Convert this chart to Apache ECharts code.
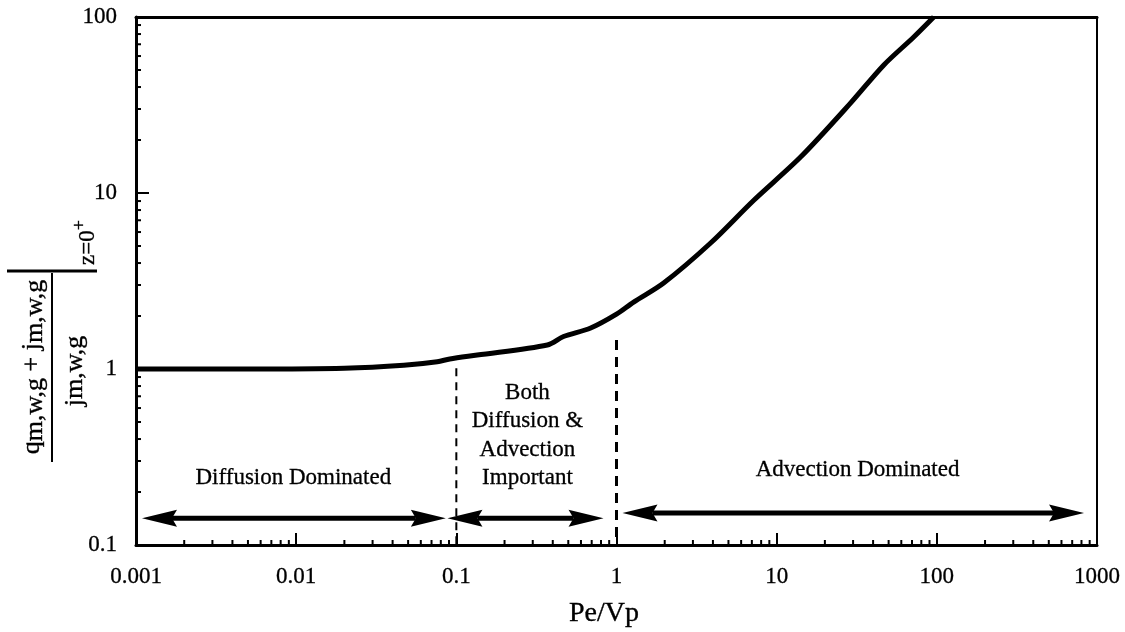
<!DOCTYPE html>
<html><head><meta charset="utf-8">
<script src="https://cdn.jsdelivr.net/npm/echarts@6/dist/echarts.min.js"></script>
<style>html,body{margin:0;padding:0;background:#fff}#chart{width:1125px;height:632px}</style>
</head><body><div id="chart"></div>
<script>
// ---- data ----
const curveX = [0.001, 0.005, 0.02, 0.047, 0.076, 0.091, 0.135, 0.37, 0.467, 0.69, 1.0, 1.28, 1.97, 3.87, 7.2, 14.1, 29, 46.7, 71.8, 95.7];
const curveY = [1.0, 1.0, 1.01, 1.05, 1.1, 1.14, 1.2, 1.37, 1.53, 1.71, 2.05, 2.4, 3.08, 5.2, 9.1, 16, 32.5, 53.4, 77, 100];
const dashLowX = [0.1, 0.1];
const dashLowY = [1.01, 0.1];
const dashHighX = [1, 1];
const dashHighY = [1.46, 0.1];
const arrowFrom = [0.00109, 0.088, 1.09];
const arrowTo = [0.086, 0.83, 830];
const arrowAt = [0.142, 0.142, 0.152];
const regionNames = ['Diffusion Dominated', 'Both\nDiffusion &\nAdvection\nImportant', 'Advection Dominated'];
const regionX = [0.0096, 0.278, 32];
const regionY = [0.24, 0.42, 0.267];
const xTickLabels = ['0.001', '0.01', '0.1', '1', '10', '100', '1000'];
const yTickLabels = ['0.1', '1', '10', '100'];
const xAxisName = 'Pe/Vp';

// minor tick positions (2..9 within each decade)
const xMinor = [];
for (let d = -3; d < 3; d++) for (let k = 2; k < 10; k++) xMinor.push([k * Math.pow(10, d), 0.1]);
const yMinor = [];
for (let d = -1; d < 2; d++) for (let k = 2; k < 10; k++) yMinor.push([0.001, k * Math.pow(10, d)]);

const FONT = '"Liberation Serif", "Times New Roman", serif';
const chart = echarts.init(document.getElementById('chart'));

const mctx = document.createElement('canvas').getContext('2d');
function meas(t, s) { mctx.font = s + 'px "Liberation Serif"'; return mctx.measureText(t).width; }

function txtStyle(text, size) {
  return { text: text, fontSize: size, fontFamily: FONT, fill: '#000', stroke: '#000', lineWidth: 0.35, textAlign: 'left', textVerticalAlign: 'middle' };
}
function partsRow(parts, centerX, baseY) {
  let total = 0; parts.forEach(p => total += meas(p[0], p[1]));
  let cx = centerX - total / 2;
  const out = [];
  parts.forEach(p => {
    out.push({ type: 'text', x: cx, y: baseY + p[2] - 0.33 * p[1], style: txtStyle(p[0], p[1]) });
    cx += meas(p[0], p[1]);
  });
  return out;
}
const B = 26;
const yTitleChildren = [].concat(
  partsRow([['q', B, 0], ['m,w,g', B, 3], [' + ', B, 0], ['j', B, 0], ['m,w,g', B, 3]], 0, -11),
  partsRow([['j', B, 0], ['m,w,g', B, 0]], -4, 32),
  [
    { type: 'line', shape: { x1: -95, y1: 0, x2: 94, y2: 0 }, style: { stroke: '#000', lineWidth: 2 } },
    { type: 'line', shape: { x1: 96, y1: -45, x2: 96, y2: 45 }, style: { stroke: '#000', lineWidth: 3 } },
    { type: 'text', x: 102, y: 44 - 8, style: txtStyle('z=0', 23) },
    { type: 'text', x: 102 + meas('z=0', 23), y: 28, style: txtStyle('+', 18) }
  ]
);

const LBL = { color: '#000', fontFamily: FONT, textBorderColor: '#000', textBorderWidth: 0.3 };

const option = {
  backgroundColor: '#fff',
  animation: false,
  grid: { left: 136, right: 28, top: 17, bottom: 87, show: false },
  xAxis: [{
    type: 'log', logBase: 10, min: 0.001, max: 1000, splitNumber: 6,
    axisLine: { show: true, onZero: false, lineStyle: { color: '#000', width: 3 } },
    axisTick: { show: true, inside: true, length: 12, lineStyle: { color: '#000', width: 2 } },
    splitLine: { show: false }, minorTick: { show: false },
    axisLabel: Object.assign({ show: true, margin: 20, fontSize: 23, showMinLabel: true, showMaxLabel: true,
      formatter: v => xTickLabels[Math.round(Math.log10(v)) + 3] }, LBL)
  }, {
    type: 'log', logBase: 10, min: 0.001, max: 1000, position: 'top',
    axisLine: { show: true, onZero: false, lineStyle: { color: '#000', width: 3 } },
    axisTick: { show: false }, axisLabel: { show: false }, splitLine: { show: false }
  }],
  yAxis: [{
    type: 'log', logBase: 10, min: 0.1, max: 100, splitNumber: 3,
    axisLine: { show: true, onZero: false, lineStyle: { color: '#000', width: 3 } },
    axisTick: { show: true, inside: true, length: 13, lineStyle: { color: '#000', width: 2 } },
    splitLine: { show: false },
    axisLabel: Object.assign({ show: true, margin: 19, fontSize: 23, showMinLabel: true, showMaxLabel: true,
      formatter: v => yTickLabels[Math.round(Math.log10(v)) + 1] }, LBL)
  }, {
    type: 'log', logBase: 10, min: 0.1, max: 100, position: 'right',
    axisLine: { show: true, onZero: false, lineStyle: { color: '#000', width: 2 } },
    axisTick: { show: false }, axisLabel: { show: false }, splitLine: { show: false }
  }],
  series: [
    { type: 'line', data: curveX.map((x, i) => [x, curveY[i]]), showSymbol: false, symbol: 'none', smooth: 0.3,
      lineStyle: { color: '#000', width: 5 }, clip: true, z: 5 },
    { type: 'line', data: dashLowX.map((x, i) => [x, dashLowY[i]]), symbol: 'none',
      lineStyle: { color: '#000', width: 2, type: [8, 6] } },
    { type: 'line', data: dashHighX.map((x, i) => [x, dashHighY[i]]), symbol: 'none',
      lineStyle: { color: '#000', width: 3, type: [10, 7] } },
    { type: 'custom', data: xMinor, clip: false, silent: true,
      renderItem: (params, api) => { const p = api.coord([api.value(0), api.value(1)]);
        return { type: 'line', shape: { x1: p[0], y1: p[1], x2: p[0], y2: p[1] - 5 }, style: { stroke: '#000', lineWidth: 2 } }; } },
    { type: 'custom', data: yMinor, clip: false, silent: true,
      renderItem: (params, api) => { const p = api.coord([api.value(0), api.value(1)]);
        return { type: 'line', shape: { x1: p[0], y1: p[1], x2: p[0] + 5, y2: p[1] }, style: { stroke: '#000', lineWidth: 2 } }; } },
    { type: 'custom', data: arrowFrom.map((v, i) => [v, arrowTo[i], arrowAt[i]]), encode: { x: [0, 1], y: 2 }, clip: false, silent: true,
      renderItem: (params, api) => {
        const a = api.coord([api.value(0), api.value(2)]);
        const b = api.coord([api.value(1), api.value(2)]);
        const L = 35, W = 8.5, N = 30;
        return { type: 'group', children: [
          { type: 'line', shape: { x1: a[0] + N, y1: a[1], x2: b[0] - N, y2: b[1] }, style: { stroke: '#000', lineWidth: 5 } },
          { type: 'polygon', shape: { points: [[a[0], a[1]], [a[0] + L, a[1] - W], [a[0] + N, a[1]], [a[0] + L, a[1] + W]] }, style: { fill: '#000' } },
          { type: 'polygon', shape: { points: [[b[0], b[1]], [b[0] - L, b[1] - W], [b[0] - N, b[1]], [b[0] - L, b[1] + W]] }, style: { fill: '#000' } }
        ] };
      } },
    { type: 'scatter', symbolSize: 0, silent: true, itemStyle: { opacity: 1 },
      data: regionNames.map((n, i) => ({ name: n, value: [regionX[i], regionY[i]] })),
      label: Object.assign({ show: true, position: 'inside', formatter: '{b}', fontSize: 23, lineHeight: 28.5, align: 'center', opacity: 1 }, LBL) }
  ],
  graphic: [
    { type: 'text', x: 604, y: 614, style: Object.assign(txtStyle(xAxisName, 28), { textAlign: 'center' }) },
    { type: 'group', x: 52, y: 367, rotation: Math.PI / 2, children: yTitleChildren }
  ]
};
chart.setOption(option);
</script>
</body></html>
